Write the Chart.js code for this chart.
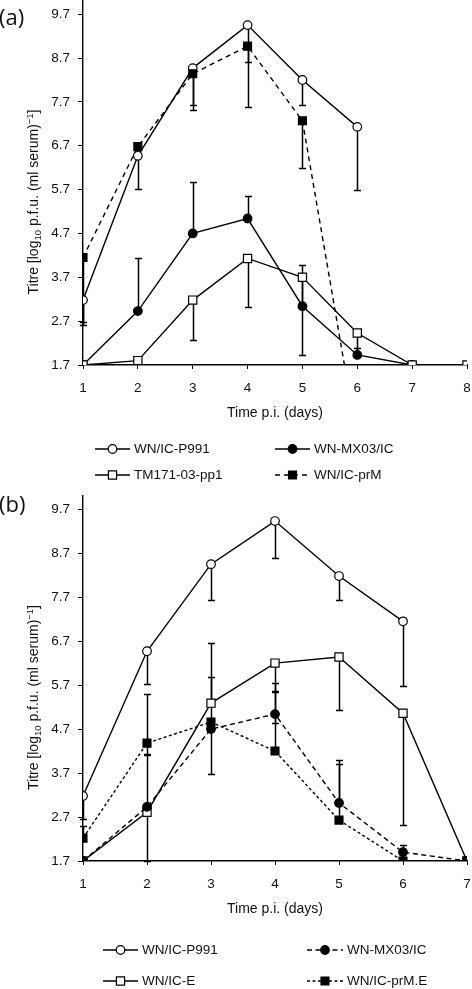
<!DOCTYPE html>
<html><head><meta charset="utf-8">
<script src="https://cdn.jsdelivr.net/npm/chart.js@4.4.0/dist/chart.umd.min.js"></script>
<style>
html,body{margin:0;padding:0;background:#fff;}
#ca{position:absolute;left:0;top:0;}
#cb{position:absolute;left:0;top:490px;}
</style></head><body>
<canvas id="ca" width="472" height="490"></canvas>
<canvas id="cb" width="472" height="499"></canvas>
<script>
// ---------- data ----------
const daysA = [1, 2, 3, 4, 5, 6, 7, 8];
const daysB = [1, 2, 3, 4, 5, 6, 7];
const yTickValues = [1.7, 2.7, 3.7, 4.7, 5.7, 6.7, 7.7, 8.7, 9.7];

// Panel (a)
const aP991   = [3.18, 6.47, 8.47, 9.45, 8.20, 7.13, null, null];
const aP991Lo = [2.67, 5.72, 7.63, 8.60, 7.63, 5.68, null, null];
const aMX03   = [1.70, 2.93, 4.70, 5.04, 3.04, 1.93, 1.70, null];
const aMX03Hi = [null, 4.13, 5.88, 5.56, 3.99, 2.08, null, null];
const aTM171  = [1.70, 1.80, 3.18, 4.13, 3.70, 2.43, 1.70, 1.70];
const aTM171Lo= [null, null, 2.27, 3.02, 1.93, 1.97, null, null];
const aPrM    = [4.15, 6.68, 8.34, 8.97, 7.27, 0.00, null, null];
const aPrMLo  = [2.62, null, 7.52, 7.59, 6.20, null, null, null];

// Panel (b)
const bP991   = [3.18, 6.47, 8.45, 9.43, 8.18, 7.15, null];
const bP991Lo = [2.65, 5.72, 7.63, 8.59, 7.63, 5.68, null];
const bMX03   = [1.70, 2.93, 4.70, 5.04, 3.02, 1.90, 1.70];
const bMX03Hi = [null, 4.13, 5.88, 5.56, 4.00, 2.06, null];
const bMX03Lo = [null, null, null, 4.84, null, null, null];
const bIcE    = [1.70, 2.81, 5.29, 6.20, 6.34, 5.06, 1.70];
const bIcEHi  = [null, null, 6.65, null, null, null, null];
const bIcELo  = [null, 1.70, null, 5.54, 5.13, 2.52, null];
const bPrME   = [2.22, 4.38, 4.86, 4.20, 2.63, 1.70, 1.70];
const bPrMEHi = [2.49, 5.50, null, 5.74, 3.90, null, null];
const bPrMELo = [null, 4.11, 3.68, null, null, null, null];

// ---------- styles ----------
const FONT = "'Liberation Sans', Arial, sans-serif";
const INK = '#111';
const ST = {
  openCircle:   {shape: 'circle', fill: '#fff', r: 4.3},
  filledCircle: {shape: 'circle', fill: '#000', r: 4.3},
  openSquare:   {shape: 'rect',   fill: '#fff', r: 5.8},
  filledSquare: {shape: 'rect',   fill: '#000', r: 5.6}
};

function pts(days, vals) { return days.map((d, i) => ({x: d, y: vals[i]})); }

function makeDs(label, days, vals, st, dash, lo, hi) {
  return {
    label, data: pts(days, vals),
    borderColor: '#000', borderWidth: 1.4, borderDash: dash,
    pointStyle: st.shape,
    pointRadius: c => (c.raw && c.raw.y !== null && c.raw.y < 1.7) ? 0 : st.r,
    pointHoverRadius: st.r,
    pointBackgroundColor: st.fill, pointBorderColor: '#000', pointBorderWidth: 1.2,
    tension: 0, fill: false, spanGaps: false,
    errLo: lo, errHi: hi, legendStyle: st
  };
}

// ---------- plugins ----------
const errorBars = {
  id: 'errorBars',
  beforeDatasetsDraw(chart) {
    const {ctx, scales: {x, y}} = chart;
    ctx.save();
    ctx.strokeStyle = '#000'; ctx.lineWidth = 1.5; ctx.setLineDash([]);
    chart.data.datasets.forEach(d => {
      d.data.forEach((p, i) => {
        [d.errLo, d.errHi].forEach(arr => {
          if (!arr || arr[i] == null || p.y == null) return;
          const px = Math.round(x.getPixelForValue(p.x)) + 0.5;
          const py = y.getPixelForValue(p.y);
          const pe = Math.round(y.getPixelForValue(arr[i])) + 0.5;
          ctx.beginPath();
          ctx.moveTo(px, py); ctx.lineTo(px, pe);
          ctx.moveTo(px - 3.5, pe); ctx.lineTo(px + 3.5, pe);
          ctx.stroke();
        });
      });
    });
    ctx.restore();
  }
};

const decorations = {
  id: 'decorations',
  afterDraw(chart, args, opts) {
    const {ctx, chartArea} = chart;
    ctx.save();
    ctx.fillStyle = INK;
    // panel label
    ctx.font = "22px 'Open Sans', sans-serif";
    ctx.textBaseline = 'middle'; ctx.textAlign = 'left';
    ctx.fillText(opts.panel, -1, opts.panelY);
    // y title with sub/superscript
    const big = "14px " + FONT, small = "9.5px " + FONT;
    const parts = [
      {t: 'Titre [log', f: big, dy: 0},
      {t: '10', f: small, dy: 3},
      {t: ' p.f.u. (ml serum)', f: big, dy: 0},
      {t: '\u22121', f: small, dy: -5},
      {t: ']', f: big, dy: 0}
    ];
    let total = 0;
    parts.forEach(p => { ctx.font = p.f; p.w = ctx.measureText(p.t).width; total += p.w; });
    const cy = (chartArea.top + chartArea.bottom) / 2 + opts.titleShift;
    ctx.translate(opts.titleX, cy);
    ctx.rotate(-Math.PI / 2);
    ctx.textBaseline = 'alphabetic';
    let cx = -total / 2;
    parts.forEach(p => { ctx.font = p.f; ctx.fillText(p.t, cx, 5 + p.dy); cx += p.w; });
    ctx.setTransform(1, 0, 0, 1, 0, 0);
    // legend
    opts.legend.forEach(it => {
      const d = chart.data.datasets[it.index];
      const st = d.legendStyle;
      ctx.strokeStyle = '#000'; ctx.lineWidth = 1.4;
      ctx.setLineDash(d.borderDash || []);
      ctx.beginPath(); ctx.moveTo(it.x0, it.y); ctx.lineTo(it.x1, it.y); ctx.stroke();
      ctx.setLineDash([]);
      ctx.fillStyle = st.fill; ctx.lineWidth = 1.2;
      Chart.helpers.drawPoint(ctx, {pointStyle: st.shape, radius: st.r, rotation: 0, borderWidth: 1.2}, it.xm, it.y);
      ctx.fillStyle = INK;
      ctx.font = "13.5px " + FONT; ctx.textBaseline = 'middle'; ctx.textAlign = 'left';
      ctx.fillText(d.label, it.xt, it.y);
    });
    ctx.restore();
  }
};

function makeOptions(xMax, padTop, padBottom, deco) {
  return {
    responsive: false, animation: false, events: [],
    layout: {autoPadding: false, padding: {left: 0, right: 5, top: padTop, bottom: padBottom}},
    plugins: {legend: {display: false}, tooltip: {enabled: false}, decorations: deco},
    scales: {
      x: {
        type: 'linear', min: 1, max: xMax,
        afterBuildTicks: s => { s.ticks = daysA.filter(v => v <= xMax).map(v => ({value: v})); },
        afterFit: s => { s.height = 57; s.paddingLeft = 0; s.paddingRight = 0; },
        grid: {drawOnChartArea: false, drawTicks: true, tickLength: 4, color: '#000', lineWidth: 1},
        border: {color: '#000', width: 1.4},
        ticks: {color: INK, font: {family: FONT, size: 13.5}, padding: 11, maxRotation: 0, autoSkip: false,
                callback: v => String(v)},
        title: {display: true, text: 'Time p.i. (days)', color: INK, font: {family: FONT, size: 14}, padding: 0}
      },
      y: {
        type: 'linear', min: 1.7, max: 10.0,
        afterBuildTicks: s => { s.ticks = yTickValues.map(v => ({value: v})); },
        afterFit: s => { s.width = 83; s.paddingTop = 0; s.paddingBottom = 0; },
        grid: {drawOnChartArea: false, drawTicks: true, tickLength: 5, color: '#000', lineWidth: 1},
        border: {color: '#000', width: 1.4},
        ticks: {color: INK, font: {family: FONT, size: 13.5}, padding: 8, autoSkip: false,
                callback: v => Number(v).toFixed(1)}
      }
    }
  };
}

Chart.register(errorBars, decorations);

new Chart(document.getElementById('ca'), {
  type: 'line',
  data: {datasets: [
    makeDs('WN/IC-prM', daysA, aPrM, ST.filledSquare, [5, 4], aPrMLo, null),
    makeDs('TM171-03-pp1', daysA, aTM171, ST.openSquare, [], aTM171Lo, null),
    makeDs('WN-MX03/IC', daysA, aMX03, ST.filledCircle, [], null, aMX03Hi),
    makeDs('WN/IC-P991', daysA, aP991, ST.openCircle, [], aP991Lo, null)
  ]},
  options: makeOptions(8, 1, 68, {
    panel: '(a)', panelY: 19, titleX: 33, titleShift: 19,
    legend: [
      {index: 3, x0: 95, x1: 130, xm: 112.5, xt: 134, y: 449},
      {index: 2, x0: 275, x1: 310, xm: 292.5, xt: 314, y: 449},
      {index: 1, x0: 95, x1: 130, xm: 112.5, xt: 134, y: 475},
      {index: 0, x0: 275, x1: 310, xm: 292.5, xt: 314, y: 475}
    ]
  })
});

new Chart(document.getElementById('cb'), {
  type: 'line',
  data: {datasets: [
    makeDs('WN/IC-prM.E', daysB, bPrME, ST.filledSquare, [3, 2.5], bPrMELo, bPrMEHi),
    makeDs('WN-MX03/IC', daysB, bMX03, ST.filledCircle, [5, 3.5], bMX03Lo, bMX03Hi),
    makeDs('WN/IC-E', daysB, bIcE, ST.openSquare, [], bIcELo, bIcEHi),
    makeDs('WN/IC-P991', daysB, bP991, ST.openCircle, [], bP991Lo, null)
  ]},
  options: makeOptions(7, 6, 71, {
    panel: '(b)', panelY: 16, titleX: 33, titleShift: 19,
    legend: [
      {index: 3, x0: 103, x1: 138, xm: 120.5, xt: 142, y: 460},
      {index: 1, x0: 307, x1: 343, xm: 325, xt: 347, y: 460},
      {index: 2, x0: 103, x1: 138, xm: 120.5, xt: 142, y: 491},
      {index: 0, x0: 307, x1: 343, xm: 325, xt: 347, y: 491}
    ]
  })
});
</script>
</body></html>
